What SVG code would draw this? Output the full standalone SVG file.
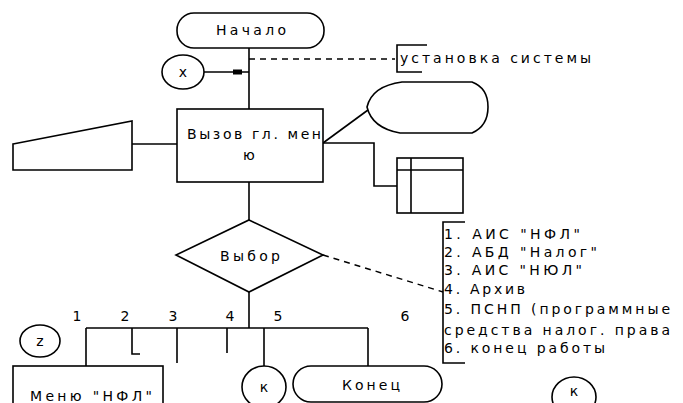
<svg xmlns="http://www.w3.org/2000/svg" width="683" height="403" viewBox="0 0 683 403">
<style>
.s{fill:#fff;stroke:#000;stroke-width:1.6}
.l{fill:none;stroke:#000;stroke-width:1.6}
.d{fill:none;stroke:#000;stroke-width:1.4;stroke-dasharray:6,5}
text{font-family:"DejaVu Sans","Liberation Sans",Arial,sans-serif;font-size:14px;fill:#000}
.c{text-anchor:middle}
</style>
<rect width="683" height="403" fill="#fff"/>
<g id="connectors">
<line class="l" x1="249" y1="48" x2="249" y2="109"/>
<line class="d" x1="249" y1="59" x2="395" y2="59"/>
<line class="l" x1="204" y1="72" x2="249" y2="72"/>
<rect x="233" y="69.5" width="9" height="5" fill="#000"/>
<line class="l" x1="132" y1="144" x2="177" y2="144"/>
<line class="l" x1="323" y1="143" x2="368" y2="110"/>
<polyline class="l" points="323,143 374,143 374,186 397,186"/>
<line class="l" x1="249" y1="182" x2="249" y2="220"/>
<line class="d" x1="323" y1="255" x2="443" y2="292"/>
<line class="l" x1="249" y1="292" x2="249" y2="328"/>
<line class="l" x1="86" y1="328" x2="368" y2="328"/>
<line class="l" x1="86" y1="328" x2="86" y2="366"/>
<polyline class="l" points="132,328 132,354 140,354"/>
<line class="l" x1="177" y1="328" x2="177" y2="363"/>
<line class="l" x1="227" y1="328" x2="227" y2="353"/>
<line class="l" x1="264" y1="328" x2="264" y2="366"/>
<line class="l" x1="368" y1="328" x2="368" y2="366"/>
<text x="77" y="321" class="c">1</text>
<text x="125" y="321" class="c">2</text>
<text x="173" y="321" class="c">3</text>
<text x="230" y="321" class="c">4</text>
<text x="278" y="321" class="c">5</text>
<text x="405" y="321" class="c">6</text>
</g>
<g id="start">
<rect class="s" x="177" y="13" width="147" height="35" rx="17"/>
<text x="251" y="35" class="c" textLength="70" lengthAdjust="spacing">Начало</text>
</g>
<g id="note-install">
<polyline class="l" points="427,45 397,45 397,72 422,72"/>
<text x="400" y="63" textLength="191" lengthAdjust="spacing">установка системы</text>
</g>
<g id="conn-x">
<ellipse class="s" cx="183" cy="72" rx="21" ry="17"/>
<text x="183" y="77" class="c">x</text>
</g>
<g id="main-menu">
<rect class="s" x="177" y="109" width="146" height="73"/>
<text x="187" y="139" textLength="134" lengthAdjust="spacing">Вызов гл. мен</text>
<text x="249" y="160" class="c">ю</text>
</g>
<g id="manual-input">
<polygon class="s" points="13,144 132,121 132,170 13,170"/>
</g>
<g id="display">
<path class="s" d="M402,82 H472 Q488,88 488,107 Q488,126 472,133 H400 Q372,128 367,107 Q372,86 402,82 Z"/>
</g>
<g id="storage">
<rect class="s" x="397" y="158" width="66" height="55"/>
<line class="l" x1="411" y1="158" x2="411" y2="213"/>
<line class="l" x1="397" y1="170" x2="463" y2="170"/>
</g>
<g id="choice">
<polygon class="s" points="249,220 323,255 249,292 176,255"/>
<text x="220" y="261" textLength="60" lengthAdjust="spacing">Выбор</text>
</g>
<g id="note-options">
<polyline class="l" points="465,222 443,222 443,363 465,363"/>
<text x="444" y="239" textLength="136" lengthAdjust="spacing">1. АИС  "НФЛ"</text>
<text x="444" y="257" textLength="153" lengthAdjust="spacing">2. АБД  "Налог"</text>
<text x="444" y="275" textLength="138" lengthAdjust="spacing">3. АИС  "НЮЛ"</text>
<text x="444" y="294" textLength="81" lengthAdjust="spacing">4. Архив</text>
<text x="444" y="314" textLength="226" lengthAdjust="spacing">5. ПСНП (программные</text>
<text x="444" y="335" textLength="226" lengthAdjust="spacing">средства налог. права</text>
<text x="444" y="353" textLength="161" lengthAdjust="spacing">6. конец работы</text>
</g>
<g id="conn-z">
<ellipse class="s" cx="40" cy="341" rx="20" ry="16"/>
<text x="40" y="346" class="c">z</text>
</g>
<g id="menu-nfl">
<rect class="s" x="13" y="366" width="150" height="50"/>
<text x="30" y="401" textLength="122" lengthAdjust="spacing">Меню "НФЛ"</text>
</g>
<g id="conn-k1">
<ellipse class="s" cx="264" cy="387" rx="22" ry="21"/>
<text x="264" y="392" class="c">к</text>
</g>
<g id="end">
<rect class="s" x="293" y="366" width="149" height="36" rx="18"/>
<text x="342" y="390" textLength="58" lengthAdjust="spacing">Конец</text>
</g>
<g id="conn-k2">
<ellipse class="s" cx="574" cy="397" rx="22" ry="20"/>
<text x="574" y="396" class="c">к</text>
</g>
</svg>
